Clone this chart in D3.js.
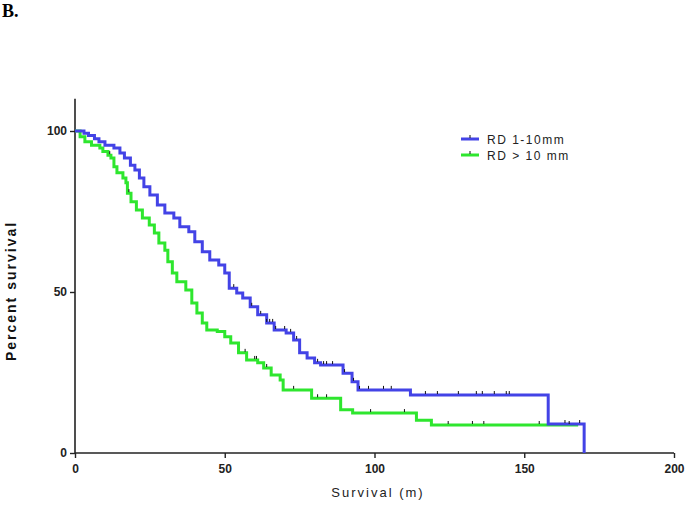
<!DOCTYPE html>
<html><head><meta charset="utf-8">
<script src="https://cdn.jsdelivr.net/npm/d3@7"></script>
<style>body{margin:0;background:#fff}svg{display:block}</style>
</head><body>
<script>
// Kaplan-Meier step data: time (months) at which survival drops to the given percent
const blueTimes = [0,3,4.5,6.5,8,10,13,15,16.5,18.5,20,21.5,23,25,27.5,30,33,35,38,40,42.5,45,48,50,51.5,54,56,58.5,61,64,66.5,70.5,73,75,77.5,80,82,89.5,92.5,94.5,112,158,170];
const blueSurv  = [100,99.3,98.6,97.6,96.7,95.6,94.7,93.2,91.6,89.4,87.9,85.4,82.7,80.1,77,74.5,73,70.3,68.7,65.6,62.5,59.9,58.4,55.9,51.2,49.7,48.1,45.4,42.9,40.4,38.2,37.3,35.1,31.1,29.5,28,27.3,24.8,22.1,19.6,18,9,0];
const blueEnd = 170;
const blueCensor = [53,59,62,64,65,66,67,70,72,74,81,83,84,86,90,93,95,98,103,105.6,117,121,128,134,136,140,144,145,163.6,168.5];

const greenTimes = [0,1.7,3.3,5.5,8.3,9.3,11,12,13,14,16,17,17.5,18.7,20.5,22.5,24.8,26.5,28,30,31,32.5,34,37,39,40.7,42.5,44,47.5,50,52,54.6,57.3,61,63,65.5,68.5,69.5,79,88.7,92.7,114,119];
const greenSurv  = [100,98.2,96.7,95.6,94.7,93.6,92.5,91.6,88.9,87,85.4,83.9,80.7,78,75.5,73,70.8,68.3,65.2,63,59.4,55.9,53.2,50.6,46.6,43.5,40.4,38.2,37.7,36.1,34.2,31.1,28.9,28,26.4,24.2,22.7,19.6,17,13.4,12.4,10.2,8.7];
const greenEnd = 168;
const greenCensor = [11.6,18,56.8,60,60.6,64,73,81,84,98.7,110,124.6,132.7,136.5,155,165];

const xTicks = [0,50,100,150,200];
const yTicks = [0,50,100];
const seriesNames = ["RD 1-10mm","RD > 10 mm"];
const seriesColors = ["#4343e6","#2ee62e"];

const W = 687, H = 511;
const svg = d3.select("body").append("svg").attr("width",W).attr("height",H);

const x = d3.scaleLinear().domain([0,200]).range([75,674]);
const y = d3.scaleLinear().domain([0,110]).range([453,98.8]);

svg.append("text").attr("x",2).attr("y",17).text("B.")
  .attr("font-family","Liberation Serif, serif").attr("font-weight","bold").attr("font-size",18);

// axes
const xAxis = svg.append("g").attr("transform","translate(0,453)")
  .call(d3.axisBottom(x).tickValues(xTicks).tickSize(5).tickPadding(6));
const yAxis = svg.append("g").attr("transform","translate(75,0)")
  .call(d3.axisLeft(y).tickValues(yTicks).tickSize(5).tickPadding(3));
[xAxis,yAxis].forEach(g=>{
  g.selectAll("path.domain").attr("stroke","#222").attr("stroke-width",1.6);
  g.selectAll(".tick line").attr("stroke","#222").attr("stroke-width",1.4);
  g.selectAll(".tick text").attr("font-family","Liberation Sans, Arial, sans-serif")
    .attr("font-weight","bold").attr("font-size",12).attr("fill","#222");
});
yAxis.select("path.domain").attr("d","M0,98.8V453");
xAxis.select("path.domain").attr("d","M75,0H674");

svg.append("text").attr("transform","translate(16,291) rotate(-90)").attr("text-anchor","middle")
  .text("Percent survival").attr("font-family","Liberation Sans, Arial, sans-serif")
  .attr("font-weight","bold").attr("font-size",14).style("letter-spacing","2px").attr("fill","#111");
svg.append("text").attr("x",378).attr("y",497).attr("text-anchor","middle")
  .text("Survival (m)").attr("font-family","Liberation Sans, Arial, sans-serif")
  .attr("font-size",13).style("letter-spacing","2px").attr("fill","#222");

function km(times, surv, end, dropToZero){
  const pts = [];
  for(let i=0;i<times.length;i++){
    if(i>0) pts.push([times[i], surv[i-1]]);
    pts.push([times[i], surv[i]]);
  }
  if(!dropToZero) pts.push([end, surv[surv.length-1]]);
  return pts;
}
function survAt(times, surv, t){
  let s = surv[0];
  for(let i=0;i<times.length;i++){ if(times[i]<=t) s = surv[i]; }
  return s;
}
const line = d3.line().x(d=>x(d[0])).y(d=>y(d[1]));

const series = [
  {times:greenTimes,surv:greenSurv,end:greenEnd,censor:greenCensor,color:seriesColors[1],zero:false},
  {times:blueTimes,surv:blueSurv,end:blueEnd,censor:blueCensor,color:seriesColors[0],zero:true}
];
series.forEach(s=>{
  svg.append("path").attr("d",line(km(s.times,s.surv,s.end,s.zero)))
    .attr("fill","none").attr("stroke",s.color).attr("stroke-width",3);
});
series.forEach(s=>{
  svg.append("g").selectAll("line").data(s.censor).join("line")
    .attr("x1",d=>x(d)).attr("x2",d=>x(d))
    .attr("y1",d=>y(survAt(s.times,s.surv,d))-1).attr("y2",d=>y(survAt(s.times,s.surv,d))-4)
    .attr("stroke","#111").attr("stroke-width",1);
});

// legend
const leg = svg.append("g");
[[0,139],[1,155]].forEach(([i,ly])=>{
  leg.append("line").attr("x1",461).attr("x2",479).attr("y1",ly).attr("y2",ly)
    .attr("stroke",seriesColors[i]).attr("stroke-width",3);
  leg.append("line").attr("x1",470).attr("x2",470).attr("y1",ly-1).attr("y2",ly-4)
    .attr("stroke","#111").attr("stroke-width",1);
  leg.append("text").attr("x",487).attr("y",ly+5).text(seriesNames[i])
    .attr("font-family","Liberation Sans, Arial, sans-serif").attr("font-size",12)
    .style("letter-spacing","1.5px").attr("fill","#222");
});
</script>
</body></html>
